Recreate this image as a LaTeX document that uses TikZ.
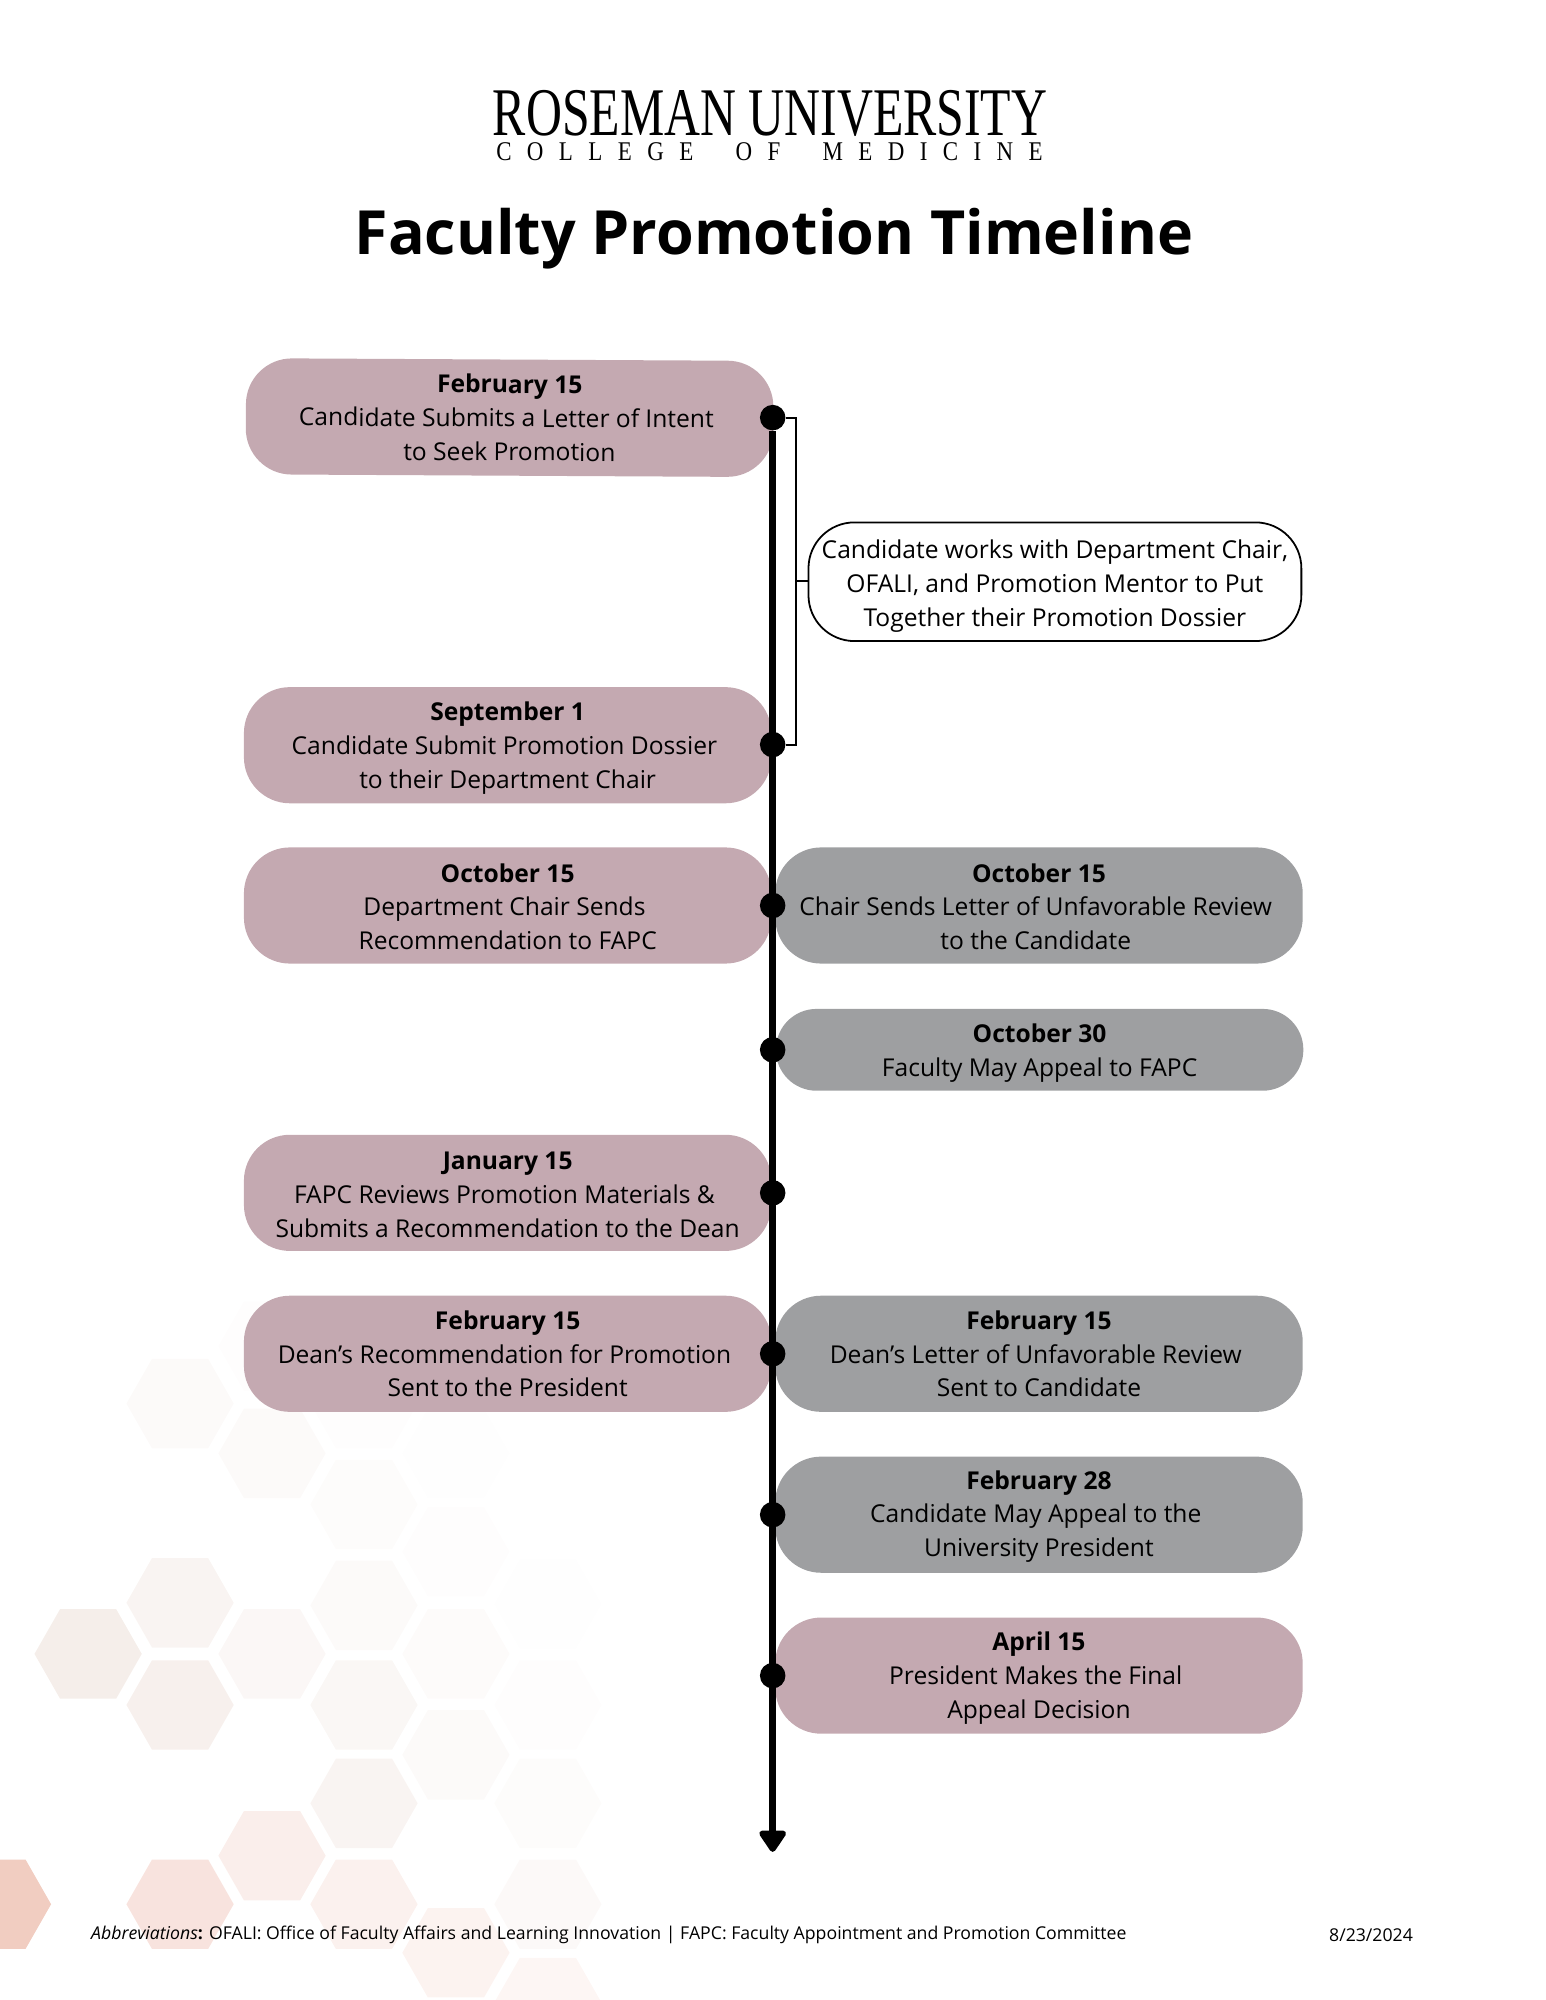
\documentclass[tikz,border=0pt]{standalone}
\usepackage{fontspec}
\setmainfont{Open Sans}
\newfontfamily\logofont[FakeStretch=0.73]{Liberation Serif}
\newfontfamily\logosub[LetterSpace=57,FakeStretch=0.85,WordSpace=2]{Liberation Serif}
\usetikzlibrary{arrows.meta}
\definecolor{rosebox}{HTML}{C4A9B1}
\definecolor{greybox}{HTML}{9E9FA1}
\definecolor{hexrose}{HTML}{F0C8BC}
\definecolor{hexsand}{HTML}{E9D9D1}
\tikzstyle{stepbox}=[rectangle,rounded corners=18.2bp,minimum width=208.9bp,minimum height=46bp,inner sep=0pt,align=center,font=\fontsize{9.74bp}{13.4bp}\selectfont]
\tikzstyle{rosestep}=[stepbox,fill=rosebox]
\tikzstyle{greystep}=[stepbox,fill=greybox]
\tikzstyle{notestep}=[stepbox,draw=black,fill=white,line width=0.7bp,minimum width=195.2bp,minimum height=47bp]
\tikzstyle{dot}=[circle,fill=black,minimum size=10.1bp,inner sep=0pt]
\newcommand{\trailsp}{\kern0.26em}
\newcommand{\dropline}[1]{\rule{0pt}{\dimexpr7.4bp+#1\relax}}

\begin{document}
\begin{tikzpicture}[x=0.5058bp,y=-0.5058bp]

  \useasboundingbox (0,0) rectangle (1210,1566);

  % watermark
  \foreach \hx/\hy/\tone/\hexbase in {-2/1492/92/hexrose, 69/1296/45/hexsand, 141/1100/12/hexsand, 141/1256/28/hexsand, 141/1336/38/hexsand, 141/1492/50/hexrose,
      213/1055/5/hexsand, 213/1139/12/hexsand, 213/1296/20/hexsand, 213/1454/30/hexrose, 285/1100/4/hexsand, 285/1179/9/hexsand, 285/1258/14/hexsand, 285/1336/22/hexsand, 285/1413/28/hexsand, 285/1492/25/hexrose,
      357/1139/3/hexsand, 357/1216/5/hexsand, 357/1296/10/hexsand, 357/1375/14/hexsand, 357/1530/22/hexrose, 429/1257/3/hexsand, 429/1336/5/hexsand, 429/1413/8/hexsand, 429/1492/15/hexsand, 429/1569/16/hexrose}
    \fill[\hexbase!\tone!white] (\hx-42,\hy-1) -- ++(20,-35) -- ++(44,0) -- ++(20,35) -- ++(-20,35) -- ++(-44,0) -- cycle;

  \node[inner sep=0pt,font=\logofont\fontsize{27bp}{28bp}\selectfont] (logo) at (603,89) {ROSEMAN UNIVERSITY};
  \node[inner sep=0pt,font=\logosub\fontsize{10.7bp}{11bp}\selectfont] (college) at (602.5,119) {COLLEGE OF MEDICINE};
  \node[font=\bfseries\fontsize{24.13bp}{28bp}\selectfont] (title) at (606,187) {Faculty Promotion Timeline};

  \node[rosestep,rotate=-0.3] (letter) at (399,327) {\textbf{February 15}\\Candidate Submits a Letter of Intent\trailsp\\to Seek Promotion};
  \node[rosestep] (dossier) at (397.5,583.5) {\dropline{2.5bp}\textbf{September 1}\\Candidate Submit Promotion Dossier\trailsp\\to their Department Chair};
  \node[rosestep] (chair) at (397.5,709) {\dropline{1bp}\textbf{October 15}\\Department Chair Sends\trailsp\\Recommendation to FAPC};
  \node[greystep] (unfav) at (813.5,709) {\dropline{1bp}\textbf{October 15}\\Chair Sends Letter of Unfavorable Review\trailsp\\to the Candidate\trailsp};
  \node[greystep,minimum height=32.4bp,rounded corners=16.1bp] (appeal) at (814,822) {\dropline{2.5bp}\textbf{October 30}\\Faculty May Appeal to FAPC};
  \node[rosestep] (fapc) at (397.5,934) {\dropline{1bp}\textbf{January 15}\\FAPC Reviews Promotion Materials \&\trailsp\\Submits a Recommendation to the Dean};
  \node[rosestep] (dean) at (397.5,1060) {\textbf{February 15}\\Dean’s Recommendation for Promotion\trailsp\\Sent to the President};
  \node[greystep] (deanno) at (813.5,1060) {\textbf{February 15}\\Dean’s Letter of Unfavorable Review\trailsp\\Sent to Candidate};
  \node[greystep] (uniappeal) at (813.5,1186) {\dropline{1.5bp}\textbf{February 28}\\Candidate May Appeal to the\trailsp\\University President};
  \node[rosestep] (final) at (813.5,1312) {\dropline{2bp}\textbf{April 15}\\President Makes the Final\trailsp\\Appeal Decision};
  \node[notestep] (note) at (826,455.5) {\dropline{3.5bp}Candidate works with Department Chair,\\OFALI, and Promotion Mentor to Put\\Together their Promotion Dossier};

  \foreach \pos/\name in {{(605,327)/dA}, {(605,583)/dB}, {(605,709)/dC}, {(605,822)/dD}, {(605,934)/dE}, {(605,1060)/dF}, {(605,1186)/dG}, {(605,1312)/dH}}
    \node[dot] (\name) at \pos {};

  \coordinate (spineend) at (605,1450);
  \coordinate (brk) at (623.5,455);

  \draw[line width=3bp,-{Triangle[round,length=9.5bp,width=12bp]}] (dA) -- (spineend);
  \draw[line width=0.8bp] (dA) -- (dA -| brk) -- (dB -| brk) -- (dB);
  \draw[line width=0.8bp] (brk) -- (brk -| note.west);

  \node[anchor=west,inner sep=0pt,font=\fontsize{7bp}{9bp}\selectfont] (abbr) at (71,1515) {\textit{Abbreviations}\textbf{:} OFALI: Office of Faculty Affairs and Learning Innovation | FAPC: Faculty Appointment and Promotion Committee};
  \node[font=\fontsize{7bp}{9bp}\selectfont] (date) at (1073.5,1515) {8/23/2024};

\end{tikzpicture}
\end{document}
